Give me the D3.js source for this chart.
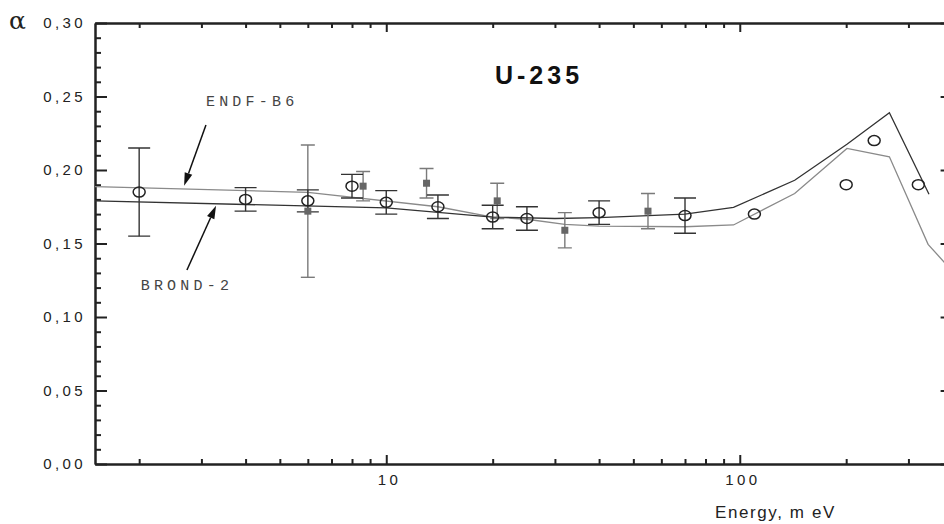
<!DOCTYPE html>
<html>
<head>
<meta charset="utf-8">
<script src="https://cdn.jsdelivr.net/npm/d3@7"></script>
<style>
  html, body { margin: 0; padding: 0; background: #fff; }
  svg { display: block; overflow: hidden; }
</style>
</head>
<body>
<svg id="chart" width="944" height="524"></svg>
<script>
// Capture-to-fission ratio alpha for U-235 versus neutron energy

// measured points, open circles
const circleEnergy = [2, 4, 6, 8, 10, 14, 20, 25, 40, 70, 110, 200, 240, 320];
const circleAlpha  = [0.185, 0.180, 0.179, 0.189, 0.178, 0.175, 0.168, 0.167, 0.171, 0.169, 0.170, 0.190, 0.220, 0.190];
const circleError  = [0.030, 0.008, 0.0075, 0.008, 0.008, 0.008, 0.008, 0.008, 0.008, 0.012, 0, 0, 0, 0];

// measured points, filled squares
const squareEnergy = [6, 8.6, 13, 20.6, 32, 55];
const squareAlpha  = [0.172, 0.189, 0.191, 0.179, 0.159, 0.172];
const squareError  = [0.045, 0.010, 0.010, 0.012, 0.012, 0.012];

// evaluated library curves
const endfEnergy  = [1.5, 6, 14, 20, 25, 32, 40, 70, 96, 143, 201, 265, 341, 400];
const endfAlpha   = [0.1887, 0.1848, 0.175, 0.168, 0.1665, 0.163, 0.1618, 0.1614, 0.1626, 0.184, 0.2147, 0.209, 0.1494, 0.131];
const brondEnergy = [1.5, 10, 20, 30, 40, 70, 96, 143, 201, 265, 343];
const brondAlpha  = [0.179, 0.1742, 0.168, 0.167, 0.1676, 0.170, 0.1746, 0.193, 0.2175, 0.239, 0.1835];

// axis ticks
const xMajorTicks = [10, 100];
const xMinorTicks = [2, 3, 4, 5, 6, 7, 8, 9, 20, 30, 40, 50, 60, 70, 80, 90, 200, 300];
const yMajorTicks = [0, 0.05, 0.10, 0.15, 0.20, 0.25, 0.30];
const yMinorTicks = d3.range(1, 30).filter(i => i % 5 !== 0).map(i => i / 100);

const svg = d3.select("#chart");
const plotLeft = 95, plotRight = 952.6, plotTop = 23, plotBottom = 464;

const x = d3.scaleLog().domain([1.5, 400]).range([plotLeft, plotRight]);
const y = d3.scaleLinear().domain([0, 0.30]).range([plotBottom, plotTop]);

const ink = "#222";
const labelSpacing = 3.4;
const commaFmt = v => d3.format(".2f")(v).replace(".", ",");

svg.append("defs").append("clipPath").attr("id", "plot")
  .append("rect").attr("x", plotLeft).attr("y", plotTop)
  .attr("width", plotRight - plotLeft).attr("height", plotBottom - plotTop);

// ---- axes (ticks point inwards) ----
function styleAxis(g) {
  g.selectAll("path.domain").attr("stroke", ink).attr("stroke-width", 2);
  g.selectAll(".tick line").attr("stroke", ink).attr("stroke-width", 2);
  g.selectAll("text").attr("fill", ink)
    .style("font-family", "'Liberation Sans', Arial, sans-serif")
    .style("font-size", "15px").style("letter-spacing", labelSpacing + "px");
}

// bottom
svg.append("g").attr("transform", `translate(0,${plotBottom})`)
  .call(d3.axisBottom(x).tickValues(xMinorTicks).tickSizeInner(-5).tickSizeOuter(0).tickFormat(""))
  .call(styleAxis);
svg.append("g").attr("transform", `translate(0,${plotBottom})`)
  .call(d3.axisBottom(x).tickValues(xMajorTicks).tickSizeInner(-9).tickSizeOuter(0).tickPadding(10)
    .tickFormat(d3.format("d")))
  .call(styleAxis)
  .call(g => g.selectAll("text").attr("dy", "0.71em").attr("dx", (labelSpacing / 2 + 1) + "px"));

// top
svg.append("g").attr("transform", `translate(0,${plotTop})`)
  .call(d3.axisTop(x).tickValues(xMinorTicks).tickSizeInner(-5).tickSizeOuter(0).tickFormat(""))
  .call(styleAxis);
svg.append("g").attr("transform", `translate(0,${plotTop})`)
  .call(d3.axisTop(x).tickValues(xMajorTicks).tickSizeInner(-9).tickSizeOuter(0).tickFormat(""))
  .call(styleAxis);

// left
svg.append("g").attr("transform", `translate(${plotLeft},0)`)
  .call(d3.axisLeft(y).tickValues(yMinorTicks).tickSizeInner(-6).tickSizeOuter(0).tickFormat(""))
  .call(styleAxis);
svg.append("g").attr("transform", `translate(${plotLeft},0)`)
  .call(d3.axisLeft(y).tickValues(yMajorTicks).tickSizeInner(-12).tickSizeOuter(0).tickPadding(9)
    .tickFormat(commaFmt))
  .call(styleAxis);

// right
svg.append("g").attr("transform", `translate(${plotRight},0)`)
  .call(d3.axisRight(y).tickValues(yMinorTicks).tickSizeInner(-6).tickSizeOuter(0).tickFormat(""))
  .call(styleAxis);
svg.append("g").attr("transform", `translate(${plotRight},0)`)
  .call(d3.axisRight(y).tickValues(yMajorTicks).tickSizeInner(-12).tickSizeOuter(0).tickFormat(""))
  .call(styleAxis);

// axis titles
svg.append("text").attr("x", 9).attr("y", 29)
  .style("font-family", "'DejaVu Serif', 'Liberation Serif', serif")
  .style("font-size", "25px").attr("fill", ink).text("α");

svg.append("text").attr("x", 715).attr("y", 518)
  .style("font-family", "'Liberation Sans', Arial, sans-serif")
  .style("font-size", "17px").style("letter-spacing", "1.6px")
  .attr("fill", ink).text("Energy, m eV");

// title
svg.append("text").attr("x", 539).attr("y", 84).attr("text-anchor", "middle")
  .style("font-family", "'Liberation Sans', Arial, sans-serif")
  .style("font-size", "25px").style("font-weight", "bold").style("letter-spacing", "4px")
  .attr("fill", "#111").text("U-235");

// ---- curves ----
const plot = svg.append("g").attr("clip-path", "url(#plot)");
const line = d3.line().x(d => x(d[0])).y(d => y(d[1]));

plot.append("path").datum(d3.zip(endfEnergy, endfAlpha))
  .attr("d", line).attr("fill", "none").attr("stroke", "#8a8a8a").attr("stroke-width", 1.3);
plot.append("path").datum(d3.zip(brondEnergy, brondAlpha))
  .attr("d", line).attr("fill", "none").attr("stroke", "#333").attr("stroke-width", 1.3);

// ---- error bars ----
function errorBars(energies, values, errors, cap, color) {
  const rows = d3.zip(energies, values, errors).filter(d => d[2] > 0);
  const g = plot.append("g").attr("stroke", color).attr("stroke-width", 1.4).attr("fill", "none");
  g.selectAll("line.v").data(rows).join("line").attr("class", "v")
    .attr("x1", d => x(d[0])).attr("x2", d => x(d[0]))
    .attr("y1", d => y(d[1] + d[2])).attr("y2", d => y(d[1] - d[2]));
  g.selectAll("line.hi").data(rows).join("line").attr("class", "hi")
    .attr("x1", d => x(d[0]) - cap).attr("x2", d => x(d[0]) + cap)
    .attr("y1", d => y(d[1] + d[2])).attr("y2", d => y(d[1] + d[2]));
  g.selectAll("line.lo").data(rows).join("line").attr("class", "lo")
    .attr("x1", d => x(d[0]) - cap).attr("x2", d => x(d[0]) + cap)
    .attr("y1", d => y(d[1] - d[2])).attr("y2", d => y(d[1] - d[2]));
}
errorBars(squareEnergy, squareAlpha, squareError, 7, "#7a7a7a");
errorBars(circleEnergy, circleAlpha, circleError, 11, "#333");

// ---- markers ----
plot.append("g").selectAll("rect").data(d3.zip(squareEnergy, squareAlpha)).join("rect")
  .attr("x", d => x(d[0]) - 3.5).attr("y", d => y(d[1]) - 3.5)
  .attr("width", 7).attr("height", 7).attr("fill", "#666");

plot.append("g").selectAll("ellipse").data(d3.zip(circleEnergy, circleAlpha)).join("ellipse")
  .attr("cx", d => x(d[0])).attr("cy", d => y(d[1]))
  .attr("rx", 6).attr("ry", 5)
  .attr("fill", "none").attr("stroke", "#222").attr("stroke-width", 1.5);

// ---- curve labels with arrows ----
const annotations = [
  { text: "ENDF-B6", label: [3.09, 0.2437], tail: [3.09, 0.2306], tip: [2.68, 0.1893] },
  { text: "BROND-2", label: [2.02, 0.1184], tail: [2.73, 0.1320], tip: [3.30, 0.1757] }
];
const notes = svg.append("g");
annotations.forEach(a => {
  notes.append("text").attr("x", x(a.label[0])).attr("y", y(a.label[1]))
    .style("font-family", "'Liberation Mono', 'Courier New', monospace")
    .style("font-size", "15px").style("letter-spacing", "4.2px")
    .attr("fill", "#444").text(a.text);
  const x0 = x(a.tail[0]), y0 = y(a.tail[1]), x1 = x(a.tip[0]), y1 = y(a.tip[1]);
  const ang = Math.atan2(y1 - y0, x1 - x0);
  const len = 13, half = 4;
  const bx = x1 - len * Math.cos(ang), by = y1 - len * Math.sin(ang);
  notes.append("line").attr("x1", x0).attr("y1", y0).attr("x2", bx).attr("y2", by)
    .attr("stroke", "#111").attr("stroke-width", 1.5);
  notes.append("path")
    .attr("d", `M${x1},${y1}L${bx + half * Math.sin(ang)},${by - half * Math.cos(ang)}` +
               `L${bx - half * Math.sin(ang)},${by + half * Math.cos(ang)}Z`)
    .attr("fill", "#111");
});
</script>
</body>
</html>
